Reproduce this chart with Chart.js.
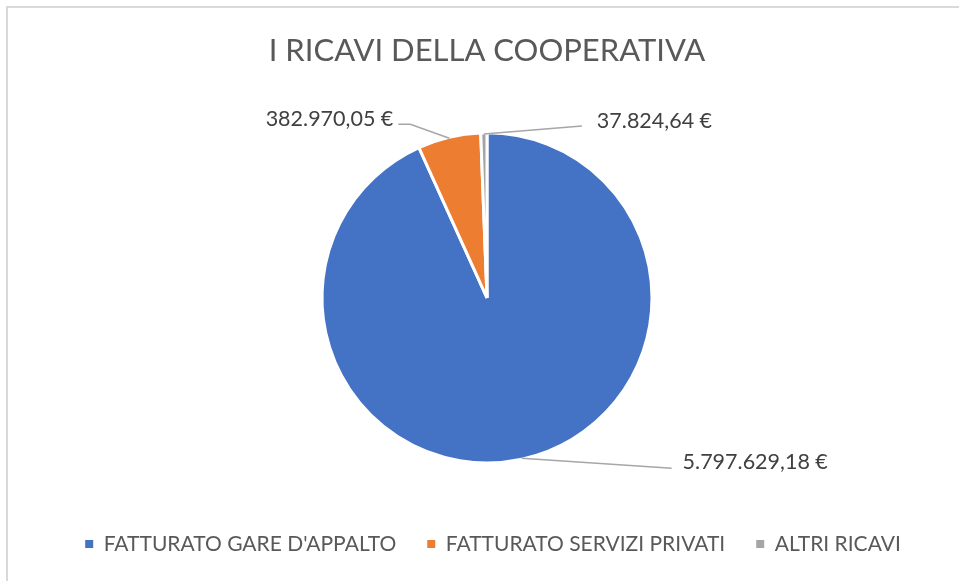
<!DOCTYPE html>
<html>
<head>
<meta charset="utf-8">
<script src="https://cdn.jsdelivr.net/npm/chart.js@4.4.1/dist/chart.umd.min.js"></script>
<style>
    body { margin: 0; background: #fff; }
    #frame {
        position: absolute;
        left: 6px;
        top: 6px;
        width: 960px;
        height: 580px;
        border-top: 2px solid #d9d9d9;
        border-left: 2px solid #d9d9d9;
    }
    #ricaviChart { position: absolute; left: 0; top: 0; }
</style>
</head>
<body>
<div id="frame"></div>
<canvas id="ricaviChart" width="959" height="581"></canvas>
<script>
const categories = ['FATTURATO GARE D\'APPALTO', 'FATTURATO SERVIZI PRIVATI', 'ALTRI RICAVI'];
const ricavi = [5797629.18, 382970.05, 37824.64];
const sliceColors = ['#4472C4', '#ED7D31', '#A5A5A5'];

// where each value label goes, relative to the point on the slice edge
const labelPlacement = [
    { line: [[150, 10]], text: [161, 4], align: 'left' },
    { line: [[-39, -14], [-51, -14]], text: [-56, -19], align: 'right' },
    { line: [[98, -8]], text: [113, -13], align: 'left' }
];

function formatEuro(value) {
    const parts = value.toFixed(2).split('.');
    const intPart = parts[0].replace(/\B(?=(\d{3})+(?!\d))/g, '.');
    return intPart + ',' + parts[1] + ' €';
}

const valueLabels = {
    id: 'valueLabels',
    afterDatasetsDraw(chart) {
        const ctx = chart.ctx;
        const arcs = chart.getDatasetMeta(0).data;
        ctx.save();
        arcs.forEach((arc, i) => {
            const p = arc.getProps(['x', 'y', 'startAngle', 'endAngle', 'outerRadius'], true);
            const mid = (p.startAngle + p.endAngle) / 2;
            const ax = p.x + Math.cos(mid) * (p.outerRadius - 1);
            const ay = p.y + Math.sin(mid) * (p.outerRadius - 1);
            const place = labelPlacement[i];

            ctx.strokeStyle = '#a6a6a6';
            ctx.lineWidth = 1.5;
            ctx.beginPath();
            ctx.moveTo(ax, ay);
            place.line.forEach(pt => ctx.lineTo(ax + pt[0], ay + pt[1]));
            ctx.stroke();

            ctx.fillStyle = '#404040';
            ctx.font = '21.5px Lato';
            ctx.textAlign = place.align;
            ctx.textBaseline = 'middle';
            ctx.fillText(formatEuro(ricavi[i]), ax + place.text[0], ay + place.text[1]);
        });
        ctx.restore();
    }
};

// nudge the legend a little to the right, like the original
const legendShift = {
    id: 'legendShift',
    afterLayout(chart) {
        chart.legend.left += 6;
        chart.legend.right += 6;
    }
};

const ctx = document.getElementById('ricaviChart').getContext('2d');
new Chart(ctx, {
    type: 'pie',
    data: {
        labels: categories,
        datasets: [{
            data: ricavi,
            backgroundColor: sliceColors,
            borderColor: '#ffffff',
            borderWidth: 3,
            radius: 165
        }]
    },
    options: {
        responsive: false,
        animation: false,
        layout: {
            padding: { top: 0, bottom: 16.5, left: 20, right: 5 }
        },
        plugins: {
            title: {
                display: true,
                text: 'I RICAVI DELLA COOPERATIVA',
                color: '#595959',
                font: { family: 'Lato', size: 31, weight: 'normal' },
                padding: { top: 32.5, bottom: 23.5 }
            },
            legend: {
                display: true,
                position: 'bottom',
                labels: {
                    color: '#595959',
                    font: { family: 'Lato', size: 21 },
                    boxWidth: 8,
                    boxHeight: 8,
                    padding: 31,
                    generateLabels(chart) {
                        const items = Chart.overrides.pie.plugins.legend.labels.generateLabels(chart);
                        items.forEach(item => {
                            item.lineWidth = 0;
                            item.strokeStyle = item.fillStyle;
                        });
                        return items;
                    }
                }
            },
            tooltip: { enabled: false }
        }
    },
    plugins: [valueLabels, legendShift]
});
</script>
</body>
</html>
